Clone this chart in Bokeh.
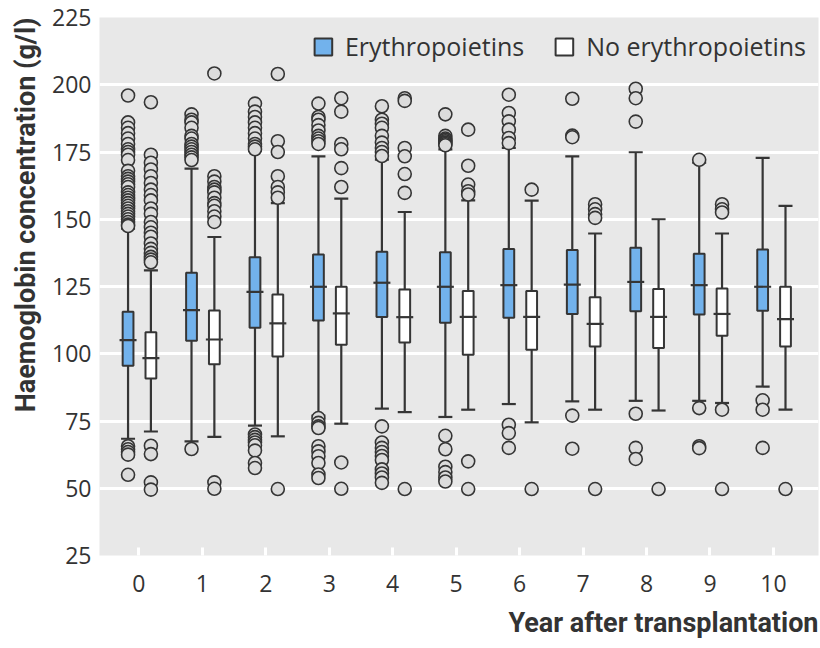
from bokeh.plotting import figure
from bokeh.models import ColumnDataSource, Range1d, FixedTicker, Title
from bokeh.transform import dodge
from bokeh.embed import file_html
from bokeh.resources import INLINE

years = [0, 1, 2, 3, 4, 5, 6, 7, 8, 9, 10]
y_ticks = [25, 50, 75, 100, 125, 150, 175, 200, 225]

# Erythropoietins group
ery_q1 = [95.5, 104.8, 109.7, 112.4, 113.7, 111.5, 113.4, 114.8, 115.8, 114.6, 116.0]
ery_med = [105.1, 116.2, 123.0, 124.9, 126.4, 124.9, 125.5, 125.7, 126.7, 125.5, 124.9]
ery_q3 = [115.6, 130.1, 135.9, 136.9, 137.9, 137.7, 138.9, 138.6, 139.4, 137.2, 138.8]
ery_lo = [68.4, 67.4, 73.3, 77.0, 79.6, 76.5, 81.3, 82.3, 82.5, 82.5, 87.8]
ery_hi = [146.5, 168.8, 175.5, 173.4, 172.2, 176.0, 176.5, 173.4, 174.9, 171.0, 172.8]
ery_out = [
    [196, 186, 184, 182, 180, 178, 176, 175, 174, 172, 168, 166, 165, 164, 163, 162, 160, 159, 158, 157,
     156, 155, 154, 153, 152, 151, 150, 149, 148, 147.5, 65.6, 64.5, 63.5, 62.5, 55],
    [189, 187, 186, 184, 181, 180, 178, 177, 176, 175, 174, 173, 172, 64.6],
    [193, 190, 188, 186, 184, 182, 180, 178, 177, 176, 70, 69, 68, 67, 66, 64, 59.4, 57.5],
    [193, 188, 187, 185, 183, 181, 180, 179, 178, 76.1, 74.3, 73, 72.4, 65.6, 63.7, 61.9, 59.4, 55.1, 53.8],
    [192, 187, 185.5, 184, 181, 178.5, 176.5, 175, 173.5, 73, 67, 65, 63.5, 62, 60.5, 57, 55.5, 54, 52],
    [189, 181, 180, 179.5, 179, 178.5, 178, 177.5, 69.5, 64.5, 58, 56, 54, 52.5],
    [196.3, 189.5, 186.4, 183.3, 180.2, 178.3, 73.6, 70.5, 65],
    [194.8, 181.1, 180.5, 77, 64.7],
    [198.5, 195, 186.3, 77.7, 65, 60.9],
    [172.1, 79.8, 65.6, 64.9],
    [82.7, 79.2, 65],
]

# No erythropoietins group
no_q1 = [90.8, 96.1, 99.0, 103.3, 104.2, 99.6, 101.5, 102.7, 102.1, 106.7, 102.7]
no_med = [98.4, 105.3, 111.3, 115.0, 113.6, 113.7, 113.7, 111.1, 113.7, 114.8, 112.9]
no_q3 = [108.0, 116.1, 122.0, 124.9, 123.9, 123.3, 123.3, 121.0, 124.1, 124.3, 124.9]
no_lo = [71.1, 69.1, 69.3, 74.0, 78.3, 79.2, 74.5, 79.2, 78.9, 81.7, 79.2]
no_hi = [131.0, 143.4, 156.0, 157.7, 152.7, 157.0, 156.9, 144.7, 150.0, 144.7, 155.0]
no_out = [
    [193.5, 174, 171, 168.5, 166, 163.5, 161, 159, 157, 154, 152, 149, 147, 145, 143.5, 141, 139, 137.5,
     136, 135, 134, 65.8, 62.7, 52.2, 49.5],
    [204.2, 166, 164, 162, 161, 160, 158, 156, 155, 153, 151, 149, 52.2, 49.8],
    [204, 179, 175, 166, 162, 160, 158, 49.7],
    [195, 190, 178, 176, 169, 162, 59.6, 49.8],
    [195, 194, 176.5, 173.4, 166.8, 159.8, 49.7],
    [183.3, 169.9, 162.9, 160.4, 159.2, 60, 49.7],
    [161, 49.7],
    [155.6, 153.7, 151.9, 150.5, 49.7],
    [49.7],
    [155.6, 153.7, 152.5, 79.2, 49.7],
    [49.7],
]

FONT = "Open Sans"
TFONT = "Roboto"
TXT = "#333333"
DARK = "#353535"
X_TITLE = "Year after transplantation"
Y_TITLE = "Haemoglobin concentration (g/l)"

p = figure(width=820, height=648, output_backend="svg", toolbar_location=None,
           x_range=Range1d(-0.62, 10.71), y_range=Range1d(25, 225),
           min_border_left=99, min_border_right=2, min_border_top=17, min_border_bottom=92)
p.background_fill_color = "#e8e8e8"
p.border_fill_color = "white"
p.outline_line_color = None
p.xgrid.grid_line_color = None
p.ygrid.grid_line_color = "white"
p.ygrid.grid_line_width = 3

p.yaxis.ticker = FixedTicker(ticks=y_ticks)
p.xaxis.ticker = FixedTicker(ticks=years)
for ax in (p.xaxis, p.yaxis):
    ax.axis_line_color = None
    ax.minor_tick_line_color = None
    ax.major_label_text_font = FONT
    ax.major_label_text_font_size = "23px"
    ax.major_label_text_color = TXT
p.yaxis.major_tick_line_color = None
p.yaxis.major_tick_in = 0
p.yaxis.major_tick_out = 0
p.yaxis.major_label_standoff = 8
p.xaxis.major_tick_in = 8
p.xaxis.major_tick_out = 0
p.xaxis.major_tick_line_color = "white"
p.xaxis.major_tick_line_width = 3
p.xaxis.major_label_standoff = 19


def draw_group(q1, med, q3, lo, hi, outs, off, fill, label):
    src = ColumnDataSource(dict(year=years, q1=q1, med=med, q3=q3, lo=lo, hi=hi))
    xs = dodge("year", off, range=p.x_range)
    p.segment(x0=xs, y0="q3", x1=xs, y1="hi", source=src, line_color=DARK, line_width=2.2)
    p.segment(x0=xs, y0="q1", x1=xs, y1="lo", source=src, line_color=DARK, line_width=2.2)
    p.scatter(x=xs, y="hi", source=src, marker="dash", size=14, line_color=DARK, line_width=2.2)
    p.scatter(x=xs, y="lo", source=src, marker="dash", size=14, line_color=DARK, line_width=2.2)
    p.vbar(x=xs, top="q3", bottom="q1", width=0.17, source=src, fill_color=fill,
           line_color=DARK, line_width=2, legend_label=label)
    p.scatter(x=xs, y="med", source=src, marker="dash", size=17, line_color=DARK, line_width=2.2)
    oy, ov = [], []
    for yr, vals in zip(years, outs):
        for v in vals:
            oy.append(yr)
            ov.append(v)
    osrc = ColumnDataSource(dict(year=oy, val=ov))
    p.scatter(x=dodge("year", off, range=p.x_range), y="val", source=osrc, marker="circle",
              size=13, fill_color="#dcdcdc", line_color=DARK, line_width=1.6)


draw_group(ery_q1, ery_med, ery_q3, ery_lo, ery_hi, ery_out, -0.17, "#72b2ec", "Erythropoietins")
draw_group(no_q1, no_med, no_q3, no_lo, no_hi, no_out, 0.19, "white", "No erythropoietins")

lg = p.legend[0]
lg.location = "top_right"
lg.orientation = "horizontal"
lg.background_fill_alpha = 0
lg.border_line_alpha = 0
lg.label_text_font = FONT
lg.label_text_font_size = "25px"
lg.label_text_color = TXT
lg.glyph_width = 22
lg.glyph_height = 21
lg.label_standoff = 11
lg.spacing = 29
lg.margin = 10
lg.padding = 2

p.add_layout(Title(text=Y_TITLE, align="right", standoff=15,
                   text_font=TFONT, text_font_style="bold", text_font_size="27px",
                   text_color=TXT), "left")
p.add_layout(Title(text=X_TITLE, align="right", standoff=20,
                   text_font=TFONT, text_font_style="bold", text_font_size="27px",
                   text_color=TXT), "below")

open("out.html", "w").write(file_html(p, INLINE))
